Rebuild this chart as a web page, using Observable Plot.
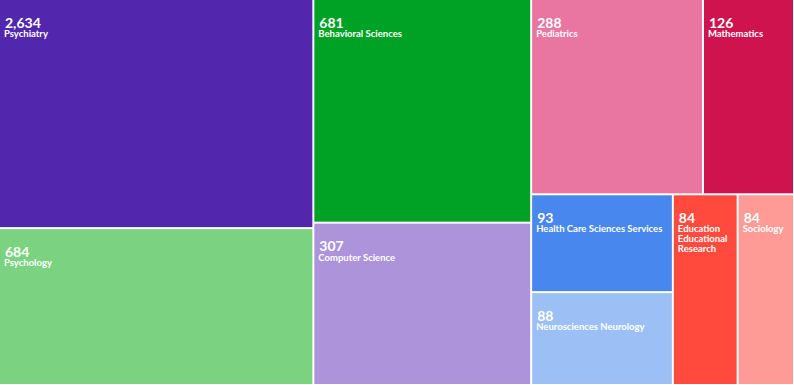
<!DOCTYPE html>
<html>
<head>
<meta charset="utf-8">
<script src="https://cdn.jsdelivr.net/npm/d3@7"></script>
<script src="https://cdn.jsdelivr.net/npm/@observablehq/plot@0.6"></script>
<style>
  html, body { margin: 0; padding: 0; background: #fff; }
  #chart svg { display: block; }
</style>
</head>
<body>
<div id="chart"></div>
<script>
// Categories, their counts (labels) and tile weights (areas)
const categories = ["Psychiatry", "Psychology", "Behavioral Sciences", "Computer Science", "Pediatrics", "Mathematics", "Health Care Sciences Services", "Neurosciences Neurology", "Education Educational Research", "Sociology"];
const counts = [2634, 684, 681, 307, 288, 126, 93, 88, 84, 84];
const sizes = [71700, 49100, 48500, 35200, 33400, 17700, 13800, 13100, 12300, 10700];
// grouping of tiles in the treemap hierarchy
const groups = ["g1", "g1", "g2", "g2", "g3/top", "g3/top", "g3/bottom/hn", "g3/bottom/hn", "g3/bottom", "g3/bottom"];
const colors = ["#5227AD", "#7BD280", "#00A226", "#AC93DA", "#E876A0", "#CE134F", "#4887EE", "#9CC0F5", "#FF4A3D", "#FF9B96"];

const W = 794, H = 385;

// build nested tree preserving insertion order
const tree = {name: "root", children: []};
categories.forEach((c, i) => {
  let node = tree;
  for (const part of groups[i].split("/")) {
    let child = node.children.find(k => k.name === part && k.children);
    if (!child) { child = {name: part, children: []}; node.children.push(child); }
    node = child;
  }
  node.children.push({name: c, count: counts[i], size: sizes[i], color: colors[i]});
});

const root = d3.hierarchy(tree).sum(d => d.children ? 0 : d.size);
d3.treemap().tile(d3.treemapSliceDice).size([793, 384]).paddingInner(2)(root);
const leaves = root.leaves().map(n => ({
  x0: n.x0, x1: n.x1, y0: n.y0, y1: n.y1,
  name: n.data.name, count: n.data.count, color: n.data.color
}));

const fmt = d3.format(",");
const font = "Lato, 'Open Sans', sans-serif";
const labelSize = 9.5;

const labelMarks = leaves.map(d => Plot.text([d], {
  x: v => v.x0 + 3.5,
  y: v => v.y0 + 29.5,
  text: "name",
  textAnchor: "start",
  lineAnchor: "top",
  lineWidth: (d.x1 - d.x0 + 10) / labelSize,
  lineHeight: 1.05,
  fill: "white",
  fontSize: labelSize,
  fontWeight: "bold",
  fontFamily: font
}));

const chart = Plot.plot({
  width: W,
  height: H,
  margin: 0,
  x: {type: "identity"},
  y: {type: "identity"},
  color: {type: "identity"},
  style: {background: "#fff", fontFamily: font},
  marks: [
    Plot.rect(leaves, {x1: "x0", x2: "x1", y1: "y0", y2: "y1", fill: "color"}),
    Plot.text(leaves, {
      x: d => d.x0 + 4.5,
      y: d => d.y0 + 27,
      text: d => fmt(d.count),
      textAnchor: "start",
      lineAnchor: "bottom",
      fill: "white",
      fontSize: 14,
      fontWeight: "bold",
      fontFamily: font
    }),
    ...labelMarks
  ]
});
document.getElementById("chart").appendChild(chart);
</script>
</body>
</html>
